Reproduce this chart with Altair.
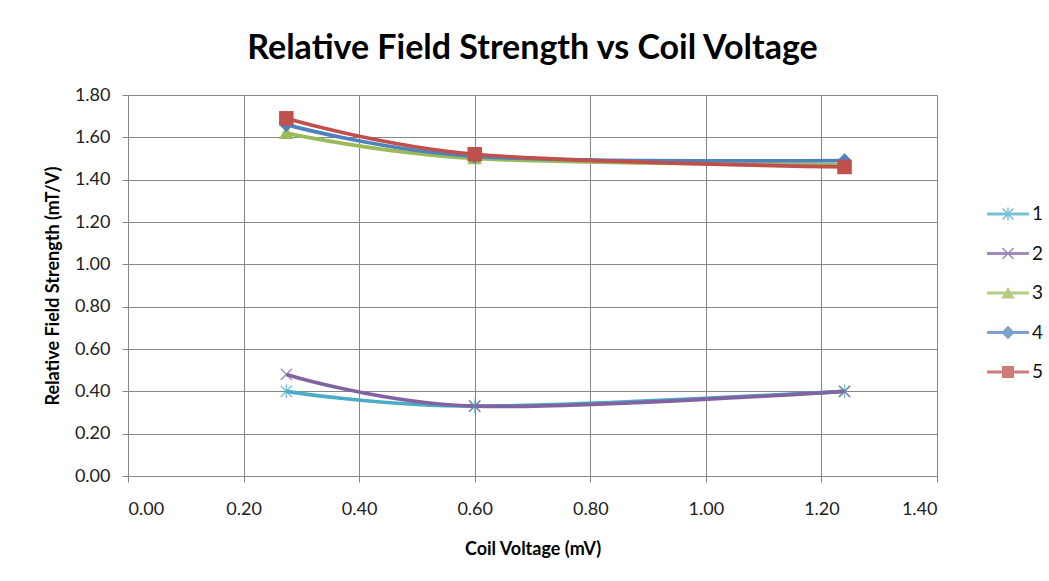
import altair as alt
import pandas as pd
import math

# ---- data ----
series = ["1", "2", "3", "4", "5"]
voltage = [0.274, 0.60, 1.24]
s1 = [0.40, 0.33, 0.40]
s2 = [0.48, 0.33, 0.40]
s3 = [1.62, 1.50, 1.47]
s4 = [1.66, 1.51, 1.49]
s5 = [1.69, 1.52, 1.46]
values = [s1, s2, s3, s4, s5]

colors = ["#4BACC6", "#8064A2", "#9BBB59", "#4F81BD", "#C0504D"]
x_ticks = [0.0, 0.2, 0.4, 0.6, 0.8, 1.0, 1.2, 1.4]
y_ticks = [0.0, 0.2, 0.4, 0.6, 0.8, 1.0, 1.2, 1.4, 1.6, 1.8]

# marker shapes for the plot (unit paths)
plot_markers = [
    "M0,-1L0,1M-0.8,-0.8L0.8,0.8M-0.8,0.8L0.8,-0.8",
    "M-0.8,-0.8L0.8,0.8M-0.8,0.8L0.8,-0.8",
    "M0,-1L1,0.8L-1,0.8Z",
    "M0,-1L1,0L0,1L-1,0Z",
    "M-1,-1L1,-1L1,1L-1,1Z",
]

# ---- legend symbols: line segment + marker, all as filled polygons ----
def rect(cx, cy, hw, hh, ang):
    c, s = math.cos(ang), math.sin(ang)
    pts = [(-hw, -hh), (hw, -hh), (hw, hh), (-hw, hh)]
    out = []
    for px, py in pts:
        out.append((cx + px * c - py * s, cy + px * s + py * c))
    return "M" + "L".join(f"{a:.4f},{b:.4f}" for a, b in out) + "Z"

line_seg = rect(0, 0, 1.75, 0.13, 0)
thin = 0.065
leg_star = line_seg + rect(0, 0, 0.55, thin, math.pi / 2) + rect(0, 0, 0.65, thin, math.pi / 4) + rect(0, 0, 0.65, thin, -math.pi / 4)
leg_cross = line_seg + rect(0, 0, 0.65, thin, math.pi / 4) + rect(0, 0, 0.65, thin, -math.pi / 4)
leg_tri = line_seg + "M0,-0.5L0.55,0.45L-0.55,0.45Z"
leg_dia = line_seg + rect(0, 0, 0.4, 0.4, math.pi / 4)
leg_sq = line_seg + rect(0, 0, 0.5, 0.5, 0)
legend_shapes = [leg_star, leg_cross, leg_tri, leg_dia, leg_sq]

rows = []
for i, name in enumerate(series):
    for xv, yv in zip(voltage, values[i]):
        rows.append({"series": name, "x": xv, "y": yv, "col": colors[i], "mk": plot_markers[i]})
df = pd.DataFrame(rows)

FONT = "Lato"

xenc = alt.X("x:Q", scale=alt.Scale(domain=[0, 1.4], nice=False, zero=False),
             axis=alt.Axis(values=x_ticks, format=".2f", title="Coil Voltage (mV)",
                           titlePadding=22, labelPadding=18, tickSize=6))
yenc = alt.Y("y:Q", scale=alt.Scale(domain=[0, 1.8], nice=False),
             axis=alt.Axis(values=y_ticks, format=".2f", title="Relative Field Strength (mT/V)",
                           titlePadding=12, labelPadding=12, tickSize=6))

base = alt.Chart(df)

lines = base.mark_line(interpolate="cardinal", strokeWidth=3.7).encode(
    x=xenc, y=yenc,
    color=alt.Color("col:N", scale=None),
    detail="series:N",
    order=alt.Order("x:Q"),
)

pts_open = base.transform_filter(
    alt.FieldOneOfPredicate(field="series", oneOf=["1", "2"])
).mark_point(filled=False, strokeWidth=1.3, size=196, opacity=0.75).encode(
    x="x:Q", y="y:Q",
    color=alt.Color("col:N", scale=None),
    shape=alt.Shape("mk:N", scale=None),
)

pts_fill = base.transform_filter(
    alt.FieldOneOfPredicate(field="series", oneOf=["3", "4", "5"])
).mark_point(filled=True, size=210, opacity=1, strokeWidth=0).encode(
    x="x:Q", y="y:Q",
    color=alt.Color("col:N", scale=None),
    shape=alt.Shape("mk:N", scale=None),
)

leg = alt.Legend(title=None, orient="none", legendX=868, legendY=107,
                 symbolSize=576, symbolStrokeWidth=0, rowPadding=17.5,
                 labelOffset=12, labelFontSize=19, labelFont=FONT, labelColor="#111")

legend_layer = base.transform_filter("false").mark_point(filled=True, opacity=1).encode(
    x="x:Q", y="y:Q",
    fill=alt.Fill("series:N", scale=alt.Scale(domain=series, range=colors), legend=leg),
    shape=alt.Shape("series:N", scale=alt.Scale(domain=series, range=legend_shapes), legend=leg),
)

chart = alt.layer(lines, pts_open, pts_fill, legend_layer).properties(
    width=809, height=381,
    background="white",
    title=alt.TitleParams("Relative Field Strength vs Coil Voltage", fontSize=34,
                          font=FONT, fontWeight="bold", color="#000", anchor="middle", offset=20),
    autosize=alt.AutoSizeParams(type="none"),
    padding={"left": 128, "top": 95, "right": 112, "bottom": 105},
).configure_view(stroke=None).configure_axis(
    gridColor="#878787", gridWidth=1, gridOpacity=1,
    domainColor="#878787", tickColor="#878787",
    labelFont=FONT, labelFontSize=18, labelColor="#222",
    titleFont=FONT, titleFontSize=18, titleFontWeight="bold", titleColor="#000",
)

chart.save("out.html", embed_options={"renderer": "svg", "actions": False})
